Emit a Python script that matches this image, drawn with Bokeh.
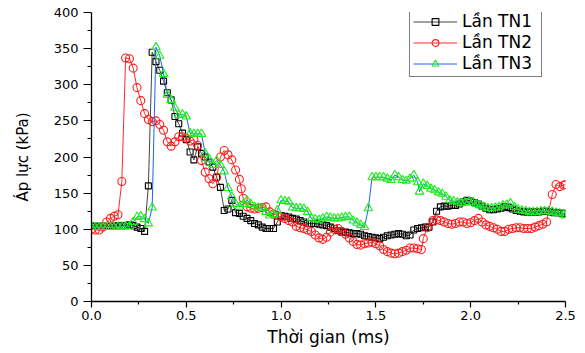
from bokeh.plotting import figure
from bokeh.models import Range1d, FixedTicker, PrintfTickFormatter, Legend, LegendItem
from bokeh.embed import file_html
from bokeh.resources import INLINE

# ---- data ----
t1 = [0.00, 0.02, 0.04, 0.06, 0.08, 0.10, 0.12, 0.14, 0.16, 0.18, 0.20, 0.22, 0.24, 0.26, 0.28,
      0.30, 0.32, 0.34, 0.36, 0.38, 0.40, 0.42, 0.44, 0.46, 0.48, 0.50, 0.52, 0.54, 0.56, 0.58,
      0.60, 0.62, 0.64, 0.66, 0.68, 0.70, 0.72, 0.74, 0.76, 0.78, 0.80, 0.82, 0.84, 0.86, 0.88,
      0.90, 0.92, 0.94, 0.96, 0.98, 1.00, 1.02, 1.04, 1.06, 1.08, 1.10, 1.12, 1.14, 1.16, 1.18,
      1.20, 1.22, 1.24, 1.26, 1.28, 1.30, 1.32, 1.34, 1.36, 1.38, 1.40, 1.42, 1.44, 1.46, 1.48,
      1.50, 1.52, 1.54, 1.56, 1.58, 1.60, 1.62, 1.64, 1.66, 1.68, 1.70, 1.72, 1.74, 1.76, 1.78,
      1.80, 1.82, 1.84, 1.86, 1.88, 1.90, 1.92, 1.94, 1.96, 1.98, 2.00, 2.02, 2.04, 2.06, 2.08,
      2.10, 2.12, 2.14, 2.16, 2.18, 2.20, 2.22, 2.24, 2.26, 2.28, 2.30, 2.32, 2.34, 2.36, 2.38,
      2.40, 2.42, 2.44, 2.46, 2.48, 2.50]
p1 = [104, 104, 104, 104, 104, 104, 104, 105, 105, 105, 106, 105, 103, 101, 97,
      160, 345, 332, 320, 305, 289, 279, 256, 246, 233, 224, 207, 196, 214, 205,
      200, 193, 186, 172, 158, 126, 128, 140, 123, 122, 118, 115, 112, 108, 106,
      103, 101, 101, 101, 110, 119, 118, 117, 115, 114, 112, 110, 108, 108, 108,
      107, 106, 105, 103, 101, 98, 96, 96, 95, 94, 94, 93, 91, 90, 89,
      88, 87, 89, 91, 92, 93, 94, 93, 91, 92, 99, 101, 102, 103, 103,
      110, 125, 131, 132, 132, 133, 133, 135, 138, 140, 139, 137, 135, 132, 129,
      127, 127, 128, 129, 131, 130, 128, 126, 125, 124, 124, 124, 124, 124, 125,
      125, 124, 123, 123, 122, 122]

t2 = [0.00, 0.02, 0.04, 0.06, 0.08, 0.10, 0.12, 0.14, 0.16, 0.18, 0.20, 0.22, 0.24, 0.26, 0.28,
      0.30, 0.32, 0.34, 0.36, 0.38, 0.40, 0.42, 0.44, 0.46, 0.48, 0.50, 0.52, 0.54, 0.56, 0.58,
      0.60, 0.62, 0.64, 0.66, 0.68, 0.70, 0.72, 0.74, 0.76, 0.78, 0.79, 0.80, 0.82, 0.84, 0.86,
      0.88, 0.90, 0.92, 0.94, 0.96, 0.98, 1.00, 1.02, 1.04, 1.06, 1.08, 1.10, 1.12, 1.14, 1.16,
      1.18, 1.20, 1.22, 1.24, 1.26, 1.28, 1.30, 1.32, 1.34, 1.36, 1.38, 1.40, 1.42, 1.44, 1.46,
      1.48, 1.50, 1.52, 1.54, 1.56, 1.58, 1.60, 1.62, 1.64, 1.66, 1.68, 1.70, 1.72, 1.74, 1.75,
      1.77, 1.80, 1.82, 1.84, 1.86, 1.88, 1.90, 1.92, 1.94, 1.96, 1.98, 2.00, 2.02, 2.04, 2.06,
      2.08, 2.10, 2.12, 2.14, 2.16, 2.18, 2.20, 2.22, 2.24, 2.26, 2.28, 2.30, 2.32, 2.34, 2.36,
      2.38, 2.40, 2.43, 2.45, 2.47, 2.49, 2.50]
p2 = [100, 99, 99, 103, 110, 115, 118, 120, 166, 337, 336, 323, 296, 278, 260,
      252, 249, 250, 245, 237, 221, 215, 221, 228, 228, 226, 222, 224, 216, 195,
      179, 170, 163, 172, 200, 209, 203, 196, 182, 169, 156, 143, 131, 129, 128,
      129, 130, 131, 124, 121, 119, 117, 115, 112, 110, 104, 102, 101, 99, 97,
      92, 88, 86, 89, 96, 100, 101, 97, 93, 88, 83, 79, 78, 80, 81,
      82, 80, 77, 72, 69, 67, 66, 67, 69, 71, 74, 74, 73, 72, 87,
      102, 112, 113, 112, 110, 108, 107, 108, 110, 110, 108, 109, 112, 115, 110,
      106, 104, 102, 100, 97, 97, 100, 101, 102, 102, 101, 101, 101, 103, 105,
      107, 110, 148, 162, 159, 161, 162]

t3 = [0.00, 0.02, 0.04, 0.06, 0.08, 0.10, 0.12, 0.14, 0.16, 0.18, 0.20, 0.22, 0.24, 0.26, 0.28,
      0.30, 0.32, 0.34, 0.36, 0.38, 0.40, 0.42, 0.44, 0.46, 0.48, 0.50, 0.52, 0.54, 0.56, 0.58,
      0.60, 0.62, 0.64, 0.66, 0.68, 0.70, 0.72, 0.74, 0.76, 0.78, 0.80, 0.82, 0.84, 0.86, 0.88,
      0.90, 0.92, 0.94, 0.96, 0.98, 1.00, 1.02, 1.04, 1.06, 1.08, 1.10, 1.12, 1.14, 1.16, 1.18,
      1.20, 1.22, 1.24, 1.26, 1.28, 1.30, 1.32, 1.34, 1.36, 1.38, 1.40, 1.42, 1.44, 1.46, 1.48,
      1.50, 1.52, 1.54, 1.56, 1.58, 1.60, 1.62, 1.64, 1.66, 1.68, 1.70, 1.72, 1.73, 1.75, 1.77,
      1.79, 1.81, 1.83, 1.85, 1.87, 1.89, 1.91, 1.93, 1.95, 1.97, 1.99, 2.01, 2.03, 2.05, 2.07,
      2.09, 2.11, 2.13, 2.15, 2.17, 2.19, 2.21, 2.23, 2.25, 2.27, 2.29, 2.31, 2.33, 2.35, 2.37,
      2.39, 2.41, 2.43, 2.45, 2.47, 2.49, 2.50]
p3 = [103, 103, 103, 103, 103, 103, 103, 104, 104, 104, 104, 110, 117, 118, 114,
      108, 130, 352, 340, 315, 286, 279, 268, 258, 259, 256, 233, 232, 232, 232,
      205, 197, 189, 195, 189, 180, 157, 145, 135, 131, 135, 140, 135, 131, 130,
      129, 124, 119, 121, 126, 140, 139, 138, 130, 129, 129, 128, 124, 115, 114,
      113, 115, 117, 116, 115, 115, 116, 117, 117, 112, 109, 106, 103, 129, 172,
      172, 172, 172, 170, 168, 175, 172, 168, 167, 170, 175, 165, 152, 163, 160,
      156, 154, 151, 149, 145, 140, 139, 137, 136, 137, 138, 137, 135, 133, 131,
      129, 129, 130, 131, 133, 134, 136, 131, 127, 126, 125, 124, 124, 124, 125,
      125, 125, 124, 123, 122, 120, 119]

labels = ["Lần TN1", "Lần TN2", "Lần TN3"]
x_ticks = [0.0, 0.5, 1.0, 1.5, 2.0, 2.5]
y_ticks = [0, 50, 100, 150, 200, 250, 300, 350, 400]

FONT = "DejaVu Sans"

p = figure(width=585, height=353, output_backend="svg", toolbar_location=None,
           x_range=Range1d(0, 2.5), y_range=Range1d(0, 400),
           min_border_left=91, min_border_right=20, min_border_top=12, min_border_bottom=52)
p.outline_line_color = None
p.grid.visible = False
p.background_fill_color = "white"
p.border_fill_color = "white"

p.xaxis.ticker = FixedTicker(ticks=x_ticks, minor_ticks=[0.25, 0.75, 1.25, 1.75, 2.25])
p.yaxis.ticker = FixedTicker(ticks=y_ticks, minor_ticks=[25, 75, 125, 175, 225, 275, 325, 375])
p.xaxis.formatter = PrintfTickFormatter(format="%.1f")
p.yaxis.formatter = PrintfTickFormatter(format="%d")

for ax in (p.xaxis[0], p.yaxis[0]):
    ax.axis_line_color = "black"
    ax.axis_line_width = 1.3
    ax.major_tick_line_color = "black"
    ax.minor_tick_line_color = "black"
    ax.major_tick_line_width = 1.2
    ax.minor_tick_line_width = 1.2
    ax.major_tick_in = 0
    ax.minor_tick_in = 0
    ax.major_label_text_font = FONT
    ax.major_label_text_font_size = "13px"
    ax.major_label_text_color = "black"
    ax.axis_label_text_font = FONT
    ax.axis_label_text_font_style = "normal"
    ax.axis_label_text_color = "black"

p.xaxis.major_tick_out = 6
p.xaxis.minor_tick_out = 3
p.xaxis.major_label_standoff = 3
p.xaxis.axis_label = "Thời gian (ms)"
p.xaxis.axis_label_text_font_size = "17px"
p.xaxis.axis_label_standoff = 4

p.yaxis.major_tick_out = 8
p.yaxis.minor_tick_out = 4
p.yaxis.major_label_standoff = 5
p.yaxis.axis_label = "Áp lực (kPa)"
p.yaxis.axis_label_text_font_size = "15px"
p.yaxis.axis_label_standoff = 19

l1 = p.line(t1, p1, line_color="#444444", line_width=1)
s1 = p.scatter(t1, p1, marker="square", size=6, line_color="black", fill_color=None, line_width=1.1)
l2 = p.line(t2, p2, line_color="#ff2a2a", line_width=1)
s2 = p.scatter(t2, p2, marker="circle", size=8, line_color="#ff1a1a", fill_color=None, line_width=1.1)
l3 = p.line(t3, p3, line_color="#1a66e6", line_width=1)
s3 = p.scatter(t3, p3, marker="triangle", size=8.5, line_color="#1aee1a", fill_color=None, line_width=1.1)

legend = Legend(items=[LegendItem(label=labels[0], renderers=[l1, s1]),
                       LegendItem(label=labels[1], renderers=[l2, s2]),
                       LegendItem(label=labels[2], renderers=[l3, s3])],
                location=(318, 224))
legend.label_text_font = FONT
legend.label_text_font_size = "17px"
legend.label_text_color = "black"
legend.border_line_color = "black"
legend.border_line_width = 1.2
legend.background_fill_color = "white"
legend.background_fill_alpha = 1
legend.padding = 3
legend.margin = 0
legend.spacing = 1
legend.glyph_width = 44
legend.glyph_height = 17
legend.label_height = 17
legend.label_width = 76
legend.label_standoff = 5
p.add_layout(legend, "center")

open("out.html", "w").write(file_html(p, INLINE))
